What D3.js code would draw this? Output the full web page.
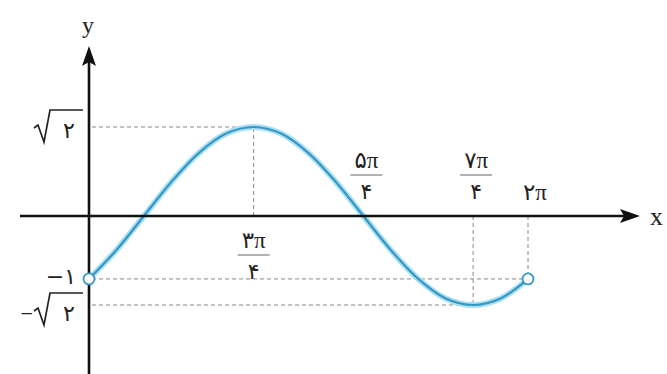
<!DOCTYPE html>
<html><head><meta charset="utf-8">
<script src="https://cdn.jsdelivr.net/npm/d3@7"></script>
<style>
html,body{margin:0;padding:0;background:#fff;}
svg{display:block;}
text{font-family:"Liberation Serif","DejaVu Sans",serif;fill:#222;}
</style></head>
<body>
<svg id="c" width="667" height="374"></svg>
<script>
// x values in units of π, y values of the curve
const curveX = [0,0.125,0.25,0.375,0.5,0.625,0.75,0.875,1,1.125,1.25,1.375,1.5,1.625,1.75,1.875,2];
const curveY = [-1,-0.54,0,0.54,1,1.31,1.414,1.31,1,0.54,0,-0.54,-1,-1.31,-1.414,-1.31,-1];
const xTickVals = [0.75,1.25,1.75,2];
const xTickNum = ["۳π","۵π","۷π","۲π"];
const xTickDen = ["۴","۴","۴",""];
const yTickVals = [1.414,-1,-1.414];
const yTickSign = ["","−","−"];
const yTickBody = ["۲","۱","۲"];
const yTickRadical = [true,false,true];
const openPoints = [0,2];
const openValue = -1;

const svg = d3.select("#c");
const x = d3.scaleLinear().domain([0,2]).range([89,528]);
const y = d3.scaleLinear().domain([-1.414,1.414]).range([305,127]);
const yAt = v => curveY[curveX.indexOf(v)];

const dash = "4,3";
const gCol = "#888";
const guides = svg.append("g").attr("stroke",gCol).attr("stroke-width",1).attr("stroke-dasharray",dash).attr("fill","none");
yTickVals.forEach(v=>{
  let xEnd;
  if (v===openValue) xEnd = x(2);
  else { const i = curveY.indexOf(v); xEnd = x(curveX[i]); }
  guides.append("line").attr("x1",x(0)+3).attr("x2",xEnd).attr("y1",y(v)).attr("y2",y(v));
});
xTickVals.forEach(v=>{
  guides.append("line").attr("x1",x(v)).attr("x2",x(v)).attr("y1",y(0)).attr("y2",y(yAt(v)));
});

// curve
const line = d3.line().x((d,i)=>x(curveX[i])).y(d=>y(d)).curve(d3.curveCatmullRom.alpha(0.5));
svg.append("path").datum(curveY).attr("d",line).attr("fill","none").attr("stroke","#acdff2").attr("stroke-width",6);
svg.append("path").datum(curveY).attr("d",line).attr("fill","none").attr("stroke","#3597c4").attr("stroke-width",2.2);

// axes
const axCol = "#111";
svg.append("line").attr("x1",20).attr("x2",628).attr("y1",y(0)).attr("y2",y(0)).attr("stroke",axCol).attr("stroke-width",2.6);
svg.append("path").attr("d",`M640,${y(0)} L620,${y(0)-7} L624,${y(0)} L620,${y(0)+7} Z`).attr("fill",axCol);
svg.append("line").attr("x1",x(0)).attr("x2",x(0)).attr("y1",60).attr("y2",374).attr("stroke",axCol).attr("stroke-width",2.6);
svg.append("path").attr("d",`M${x(0)},46 L${x(0)-7},66 L${x(0)},62 L${x(0)+7},66 Z`).attr("fill",axCol);
svg.append("text").attr("x",x(0)-1).attr("y",33).attr("text-anchor","middle").attr("font-size",24).text("y");
svg.append("text").attr("x",650).attr("y",y(0)+9).attr("font-size",26).text("x");

// open points
openPoints.forEach(v=>{
  svg.append("circle").attr("cx",x(v)).attr("cy",y(openValue)).attr("r",5.5)
    .attr("fill","#fff").attr("stroke","#3597c4").attr("stroke-width",1.8);
});

// y tick labels
yTickVals.forEach((v,i)=>{
  const g = svg.append("g");
  const yy = y(v);
  const low = v < 0;
  const top = low ? yy-12 : yy-17;
  const bot = low ? yy+20 : yy+15;
  if (yTickRadical[i]) {
    const xr = x(0)-6;
    g.append("path")
      .attr("d",`M${xr-49},${bot-14} L${xr-45},${bot-17} L${xr-39},${bot} L${xr-33},${top} L${xr},${top}`)
      .attr("fill","none").attr("stroke","#222").attr("stroke-width",1.7).attr("stroke-linejoin","miter");
    g.append("text").attr("x",xr-14).attr("y",bot-4).attr("text-anchor","middle").attr("font-size",22).text(yTickBody[i]);
    if (yTickSign[i]) g.append("text").attr("x",xr-50).attr("y",bot-4).attr("text-anchor","end")
      .attr("font-family","DejaVu Sans").attr("font-size",22).text(yTickSign[i]);
  } else {
    g.append("text").attr("x",x(0)-13).attr("y",yy+5).attr("text-anchor","end").attr("font-size",22)
      .call(t=>{
        t.append("tspan").attr("font-family","DejaVu Sans").text(yTickSign[i]);
        t.append("tspan").text(yTickBody[i]);
      });
  }
});

// x tick labels (fractions)
xTickVals.forEach((v,i)=>{
  const below = yAt(v) > 0;
  const cx = x(v) + (below ? 0 : 3);
  const g = svg.append("g");
  if (xTickDen[i]) {
    const barY = below ? y(0)+39 : y(0)-41;
    g.append("text").attr("x",cx).attr("y",barY-7).attr("text-anchor","middle").attr("font-size",23).text(xTickNum[i]);
    g.append("line").attr("x1",cx-16).attr("x2",cx+16).attr("y1",barY).attr("y2",barY).attr("stroke","#666").attr("stroke-width",1);
    g.append("text").attr("x",cx).attr("y",barY+24).attr("text-anchor","middle").attr("font-size",22).text(xTickDen[i]);
  } else {
    g.append("text").attr("x",cx+4).attr("y",y(0)-16).attr("text-anchor","middle").attr("font-size",23).text(xTickNum[i]);
  }
});
</script>
</body></html>
